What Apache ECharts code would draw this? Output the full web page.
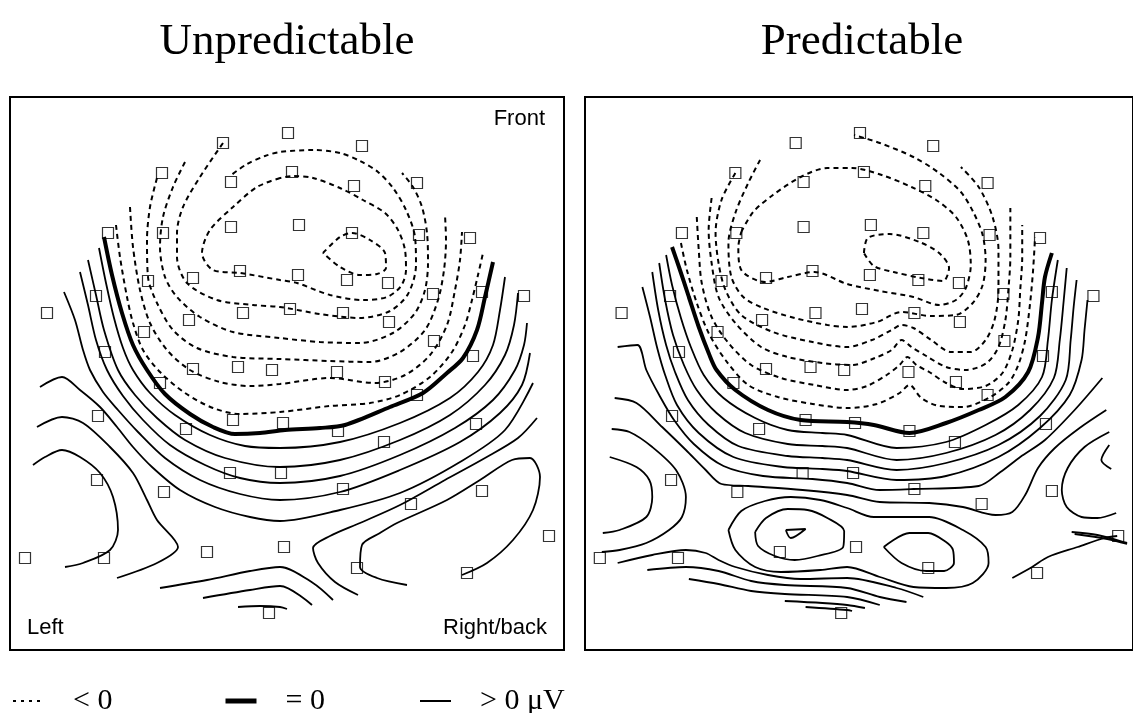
<!DOCTYPE html>
<html>
<head>
<meta charset="utf-8">
<script src="https://cdn.jsdelivr.net/npm/echarts@6.0.0/dist/echarts.min.js"></script>
<style>
  html, body { margin: 0; padding: 0; background: #fff; }
  #main { width: 1133px; height: 713px; }
</style>
</head>
<body>
<div id="main"></div>
<script>
// electrode sites, same montage on both maps (map units = px of the left map)
var electrodes = [
  [223,143],[288,133],[362,146],[162,173],[231,182],[292,172],[354,186],[417,183],
  [108,233],[163,233],[231,227],[299,225],[352,233],[419,235],[470,238],[148,281],
  [193,278],[240,271],[298,275],[347,280],[388,283],[96,296],[433,294],[482,292],
  [524,296],[47,313],[189,320],[243,313],[290,309],[343,313],[389,322],[144,332],
  [434,341],[105,352],[473,356],[193,369],[238,367],[272,370],[337,372],[160,383],
  [385,382],[417,395],[98,416],[233,420],[186,429],[283,423],[338,431],[384,442],
  [476,424],[97,480],[230,473],[281,473],[164,492],[343,489],[411,504],[482,491],
  [549,536],[25,558],[104,558],[207,552],[284,547],[357,568],[467,573],[269,613]
];

// ---- Unpredictable map ----
var unpredZero = [
  [[104,237],[112,275],[122,313],[133,345],[147,370],[165,394],[190,414],[213,427],[235,434],[260,433],[285,430],[320,428],[345,425],[390,407],[423,393],[447,373],[463,358],[477,330],[485,297],[493,262]]
];
var unpredPos = [
  [[99,248],[106,283],[114,318],[123,348],[133,370],[150,393],[175,415],[210,435],[245,446],[280,448],[340,442],[400,423],[450,398],[478,372],[493,345],[500,310],[505,277]],
  [[88,260],[96,295],[104,330],[118,370],[135,395],[157,418],[185,440],[225,458],[280,467],[340,460],[400,440],[450,415],[485,385],[505,355],[514,325],[518,293]],
  [[80,272],[88,305],[96,340],[107,370],[123,396],[143,420],[170,445],[205,465],[240,478],[280,483],[340,476],[400,455],[455,428],[493,400],[515,370],[524,345],[527,323]],
  [[64,292],[75,320],[83,350],[90,370],[103,392],[118,410],[138,432],[165,458],[200,480],[240,494],[280,500],[340,492],[400,470],[460,442],[500,413],[522,385],[530,353]],
  [[40,387],[62,377],[80,390],[100,407],[117,427],[133,447],[152,467],[180,490],[215,507],[250,517],[280,521],[340,510],[400,493],[460,462],[505,430],[533,383]],
  [[537,418],[518,438],[485,458],[445,480],[400,505],[360,523],[330,536],[313,548],[318,563],[335,582],[358,595]],
  [[407,585],[377,578],[360,567],[362,545],[380,533],[397,523],[447,500],[480,480],[512,460],[530,458],[540,477],[533,510],[513,540],[487,563],[462,575]],
  [[37,427],[62,417],[83,423],[110,447],[133,473],[147,500],[157,520],[178,547],[157,563],[117,578]],
  [[33,465],[45,457],[62,450],[80,457],[100,473],[113,497],[118,530],[110,550],[83,563],[65,567]],
  [[160,588],[207,580],[250,571],[280,567],[313,583],[333,600]],
  [[203,598],[250,590],[280,586],[312,605]],
  [[238,607],[260,606],[280,607],[287,609]]
];
var unpredNeg = [
  [[116,225],[120,257],[127,297],[133,323],[143,350],[160,372],[185,393],[213,408],[240,414],[280,412],[330,406],[370,403],[400,395],[430,377],[452,352],[465,325],[472,300],[478,275],[483,253]],
  [[130,207],[133,247],[140,290],[150,323],[167,350],[190,370],[220,382],[250,386],[280,384],[330,378],[375,383],[405,375],[430,355],[447,325],[455,290],[460,260],[462,232]],
  [[157,178],[150,207],[147,240],[148,277],[157,303],[173,330],[197,348],[233,357],[280,359],[330,361],[370,362],[400,352],[425,330],[438,300],[444,270],[446,240],[445,215]],
  [[185,162],[173,187],[163,217],[160,247],[165,277],[177,297],[200,317],[233,332],[280,338],[320,342],[360,343],[393,333],[415,313],[425,290],[428,263],[427,233],[422,207],[413,187],[402,173]],
  [[223,143],[200,177],[183,207],[177,233],[177,257],[187,283],[217,300],[253,305],[280,307],[320,314],[360,318],[390,311],[408,294],[416,265],[415,237],[406,210],[393,188],[378,172],[360,161],[340,153],[313,150],[280,152],[265,156],[247,164],[230,176]],
  [[280,178],[257,187],[233,207],[210,230],[202,253],[213,270],[240,273],[280,280],[297,283],[330,295],[363,300],[387,297],[401,286],[406,270],[405,250],[398,230],[385,213],[363,200],[340,188],[313,178],[293,176],[280,178]],
  [[323,253],[340,237],[352,233],[370,240],[385,253],[386,268],[377,274],[360,275],[340,267],[323,253]]
];

// ---- Predictable map ----
var predZero = [
  [[98,247],[105,267],[115,297],[125,327],[135,353],[143,370],[162,390],[195,410],[228,420],[275,422],[302,425],[338,433],[375,423],[408,410],[435,397],[458,372],[468,337],[472,303],[475,277],[482,253]]
];
var predPos = [
  [[92,255],[98,285],[107,318],[117,347],[130,375],[150,398],[182,418],[215,430],[250,433],[275,435],[325,448],[375,442],[415,425],[448,405],[472,377],[478,340],[482,300],[488,260]],
  [[85,263],[91,300],[99,335],[110,365],[123,390],[143,413],[172,433],[215,444],[250,446],[275,448],[325,460],[375,453],[425,435],[460,410],[484,378],[490,340],[494,300],[497,268]],
  [[78,272],[84,310],[92,345],[101,372],[114,400],[135,425],[165,446],[215,456],[250,458],[275,460],[325,470],[375,463],[428,445],[470,416],[496,380],[501,340],[504,307],[507,280]],
  [[68,287],[76,318],[83,348],[91,375],[103,405],[125,433],[160,457],[210,467],[250,469],[275,471],[325,480],[375,476],[428,457],[470,428],[500,395],[512,360],[515,330],[518,300]],
  [[43,347],[63,345],[72,370],[85,395],[100,420],[120,444],[150,466],[190,476],[240,479],[275,483],[308,490],[342,489],[408,486],[430,472],[450,457],[475,440],[505,410],[533,378]],
  [[40,398],[62,403],[88,427],[112,450],[132,470],[148,484],[175,486],[230,490],[275,495],[308,502],[358,503],[392,507],[425,515],[442,512],[455,495],[468,468],[485,448],[510,428],[537,410]],
  [[37,429],[55,432],[78,447],[102,470],[112,497],[108,517],[95,530],[72,543],[45,550],[27,552]],
  [[35,457],[62,467],[75,480],[78,497],[72,517],[45,530],[28,533]],
  [[155,530],[168,511],[192,501],[218,497],[248,500],[275,508],[302,517],[358,517],[392,530],[415,547],[418,563],[402,583],[375,588],[342,587],[308,577],[275,567],[248,570],[208,572],[182,567],[162,550],[155,530]],
  [[182,532],[193,518],[215,509],[235,510],[255,518],[272,531],[271,547],[245,556],[222,560],[202,556],[185,546],[182,532]],
  [[213,530],[233,529],[218,538],[213,530]],
  [[312,547],[338,533],[357,533],[375,542],[382,550],[383,563],[373,571],[355,571],[330,563],[312,547]],
  [[43,563],[78,555],[112,550],[132,553],[145,560],[162,567],[195,575],[228,579],[275,578],[325,588],[352,597]],
  [[73,570],[112,567],[145,571],[178,581],[212,585],[275,588],[308,597],[335,602]],
  [[115,579],[145,584],[178,591],[212,594],[275,597],[308,605]],
  [[212,601],[250,603],[275,605],[293,608]],
  [[233,607],[275,610],[280,611]],
  [[540,432],[515,447],[498,468],[492,490],[497,507],[512,517],[528,518],[547,513]],
  [[540,445],[532,460],[542,469]],
  [[442,578],[462,567],[478,557],[508,547],[535,538],[548,536]],
  [[502,532],[528,535],[558,543]],
  [[505,534],[538,539],[558,544]]
];
var predNeg = [
  [[107,243],[113,270],[123,303],[135,333],[152,360],[175,385],[205,397],[240,404],[275,408],[305,404],[328,393],[338,385],[350,398],[368,406],[392,407],[418,398],[438,383],[448,365],[455,340],[460,303],[463,270],[465,237]],
  [[123,217],[125,250],[128,283],[138,317],[155,343],[178,365],[208,378],[242,385],[275,390],[295,386],[315,375],[328,365],[336,357],[345,365],[358,372],[375,383],[392,389],[415,386],[432,373],[442,350],[448,320],[450,290],[452,257],[452,225]],
  [[138,198],[135,230],[138,263],[145,297],[162,323],[188,347],[215,357],[250,363],[280,365],[303,358],[320,350],[330,340],[340,347],[355,356],[375,367],[395,370],[416,363],[428,347],[435,320],[438,290],[440,257],[440,230],[440,208]],
  [[162,173],[148,200],[142,233],[145,263],[152,290],[168,315],[200,332],[240,342],[275,347],[300,340],[320,330],[330,325],[342,328],[360,340],[380,352],[400,352],[415,340],[424,320],[428,290],[428,250],[422,217],[408,187],[390,167]],
  [[187,160],[175,183],[162,213],[155,243],[158,277],[170,297],[190,308],[222,318],[255,325],[275,327],[305,322],[330,312],[360,316],[385,315],[402,303],[412,285],[415,260],[412,235],[403,213],[390,192],[368,173],[342,157],[308,143],[282,135]],
  [[168,232],[180,212],[200,195],[228,177],[255,168],[280,168],[310,175],[340,187],[365,200],[385,217],[397,240],[400,265],[395,288],[385,300],[368,305],[342,297],[308,291],[275,284],[242,272],[215,277],[192,282],[168,270],[165,247],[168,232]],
  [[292,253],[296,238],[318,234],[348,242],[368,253],[378,268],[372,281],[350,278],[322,272],[302,266],[292,253]]
];

var myChart = echarts.init(document.getElementById("main"));

var negStyle = { color: "#000", width: 2, type: [5, 4] };
var zeroStyle = { color: "#000", width: 4 };
var posStyle = { color: "#000", width: 1.8 };

function contours(lines, name, panel, style) {
  return lines.map(function (pts) {
    return {
      name: name,
      type: "line",
      xAxisIndex: panel,
      yAxisIndex: panel,
      data: pts,
      symbol: "none",
      smooth: 0.3,
      silent: true,
      itemStyle: { color: "#000" },
      lineStyle: style,
      z: 2
    };
  });
}

function sites(panel) {
  return {
    type: "scatter",
    xAxisIndex: panel,
    yAxisIndex: panel,
    data: electrodes,
    symbol: "rect",
    symbolSize: 11,
    silent: true,
    itemStyle: { color: "rgba(0,0,0,0)", borderColor: "#000", borderWidth: 1.2 },
    z: 5
  };
}

var series = []
  .concat(contours(unpredNeg, "< 0", 0, negStyle))
  .concat(contours(unpredZero, "= 0", 0, zeroStyle))
  .concat(contours(unpredPos, "> 0 μV", 0, posStyle))
  .concat(contours(predNeg, "< 0", 1, negStyle))
  .concat(contours(predZero, "= 0", 1, zeroStyle))
  .concat(contours(predPos, "> 0 μV", 1, posStyle));
series.push(sites(0));
series.push(sites(1));

var legendText = {
  fontFamily: "Liberation Serif",
  fontSize: 30,
  color: "#000",
  padding: [0, 0, 0, 24]
};
function legendAt(name, left, line) {
  return {
    data: [name],
    left: left,
    top: 681,
    itemWidth: 31,
    itemHeight: 14,
    selectedMode: false,
    // line only, no symbol in the key
    itemStyle: { color: "rgba(0,0,0,0)", borderWidth: 0, opacity: 0 },
    lineStyle: line,
    textStyle: legendText
  };
}

var sans = "22px 'Liberation Sans', Arial, sans-serif";
var serif = "45px 'Liberation Serif', 'Times New Roman', serif";

function label(text, x, y, font, align) {
  return {
    type: "text",
    x: x,
    y: y,
    silent: true,
    style: {
      text: text,
      font: font,
      fill: "#000",
      textAlign: align,
      align: align,
      textVerticalAlign: "middle",
      verticalAlign: "middle"
    }
  };
}

option = {
  backgroundColor: "#fff",
  animation: false,
  grid: [
    { left: 10, top: 97, width: 554, height: 553, show: true, borderColor: "#000", borderWidth: 2 },
    { left: 585, top: 97, width: 554, height: 553, show: true, borderColor: "#000", borderWidth: 2 }
  ],
  xAxis: [
    { type: "value", gridIndex: 0, min: 10, max: 564, show: false },
    { type: "value", gridIndex: 1, min: 10, max: 564, show: false }
  ],
  yAxis: [
    { type: "value", gridIndex: 0, min: 97, max: 650, inverse: true, show: false },
    { type: "value", gridIndex: 1, min: 97, max: 650, inverse: true, show: false }
  ],
  legend: [
    legendAt("< 0", 7, { color: "#000", width: 2, type: [3, 5] }),
    legendAt("= 0", 218, { color: "#000", width: 5 }),
    legendAt("> 0 μV", 414, { color: "#000", width: 2 })
  ],
  graphic: [
    label("Unpredictable", 287, 42, serif, "center"),
    label("Predictable", 862, 42, serif, "center"),
    label("Front", 545, 119, sans, "right"),
    label("Left", 27, 628, sans, "left"),
    label("Right/back", 547, 628, sans, "right")
  ],
  series: series
};
myChart.setOption(option);
</script>
</body>
</html>
